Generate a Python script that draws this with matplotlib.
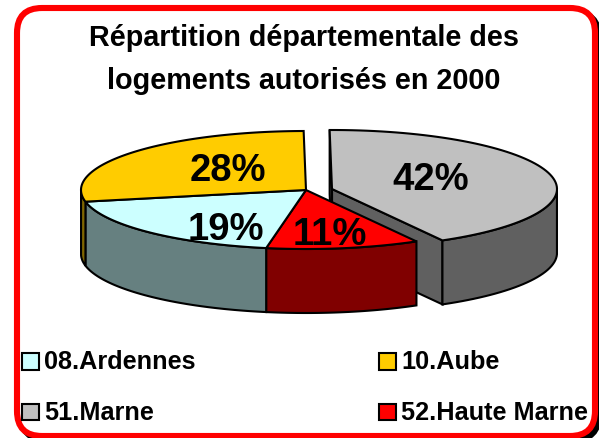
import numpy as np
from matplotlib import pyplot as plt
from matplotlib.patches import Polygon, FancyBboxPatch, Rectangle

plt.rcParams['font.family'] = ['Liberation Sans', 'DejaVu Sans']

title = "Répartition départementale des\nlogements autorisés en 2000"
names = ["08.Ardennes", "10.Aube", "51.Marne", "52.Haute Marne"]
values = [19, 28, 42, 11]
top_colors = ["#ccffff", "#ffcc00", "#c0c0c0", "#ff0000"]
side_colors = ["#668080", "#806600", "#606060", "#800000"]

# pie goes clockwise from the top: Marne, Haute Marne, Ardennes, Aube
draw_order = [2, 3, 0, 1]
start = -0.6
rx, ry = 225, 59
cx, cy = 306, 191
depth = 64
explode = {2: (26, -1)}

fig = plt.figure(figsize=(5.99, 4.39), dpi=100)
ax = fig.add_axes([0, 0, 1, 1])
ax.set_xlim(0, 599)
ax.set_ylim(439, 0)
ax.axis("off")


def edge(a, x0, y0):
    a = np.radians(a)
    return np.column_stack([x0 + rx * np.sin(a), y0 - ry * np.cos(a)])


# frame with its shadow
ax.add_patch(FancyBboxPatch((46, 38), 528, 378, boxstyle="round,pad=25,rounding_size=25",
                            fc="black", ec="black", lw=4, zorder=1))
ax.add_patch(FancyBboxPatch((42, 34), 528, 378, boxstyle="round,pad=25,rounding_size=25",
                            fc="white", ec="#ff0000", lw=4.4, zorder=2))

# work out the angle span of every slice
angles = {}
a = start
for i in draw_order:
    b = a + values[i] * 3.6
    angles[i] = (a, b)
    a = b

z = 3
# exploded slice first, the others sit in front of it
for i in draw_order:
    a, b = angles[i]
    dx, dy = explode.get(i, (0, 0))
    x0, y0 = cx + dx, cy + dy
    ts = np.linspace(a, b, 80)
    rim = edge(ts, x0, y0)
    if i in explode:
        # inner faces of the pulled out slice
        p0 = np.array([x0, y0])
        end = rim[-1]
        ax.add_patch(Polygon([p0, end, end + [0, depth], p0 + [0, depth]],
                             fc=side_colors[i], ec="black", lw=1.5, zorder=z))
        first = rim[0]
        ax.add_patch(Polygon([first, p0, p0 + [0, depth], first + [0, depth]],
                             fc=side_colors[i], ec="black", lw=1.5, zorder=z))
    # outer wall only where the rim faces the viewer
    front = (ts > 90) & (ts < 270)
    if front.any():
        wall = rim[front]
        ax.add_patch(Polygon(np.vstack([wall, (wall + [0, depth])[::-1]]),
                             fc=side_colors[i], ec="black", lw=1.5, zorder=z))
    ax.add_patch(Polygon(np.vstack([[x0, y0], rim]), fc=top_colors[i], ec="black",
                         lw=1.5, zorder=z + 1))
    z += 2

# percent labels
label_pos = {0: (226, 240), 1: (228, 181), 2: (431, 190), 3: (330, 245)}
for i in draw_order:
    ax.text(label_pos[i][0], label_pos[i][1], f"{values[i]}%", fontsize=27.5, fontweight="bold",
            ha="center", va="baseline", color="black", zorder=20)

ax.text(304, 46, title.split("\n")[0], fontsize=20.7, fontweight="bold", ha="center", va="baseline", zorder=20)
ax.text(304, 89, title.split("\n")[1], fontsize=20.7, fontweight="bold", ha="center", va="baseline", zorder=20)

# legend, two rows of two
legend_x = [22, 379, 22, 379]
legend_y = [354, 354, 405, 405]
for i in range(len(names)):
    ax.add_patch(Rectangle((legend_x[i], legend_y[i]), 16.5, 16.5, fc=top_colors[i], ec="black",
                           lw=1.5, zorder=20))
    ax.text(legend_x[i] + 22, legend_y[i] + 15, names[i], fontsize=18.2, fontweight="bold",
            ha="left", va="baseline", zorder=20)

fig.savefig("out.png", dpi=100)
